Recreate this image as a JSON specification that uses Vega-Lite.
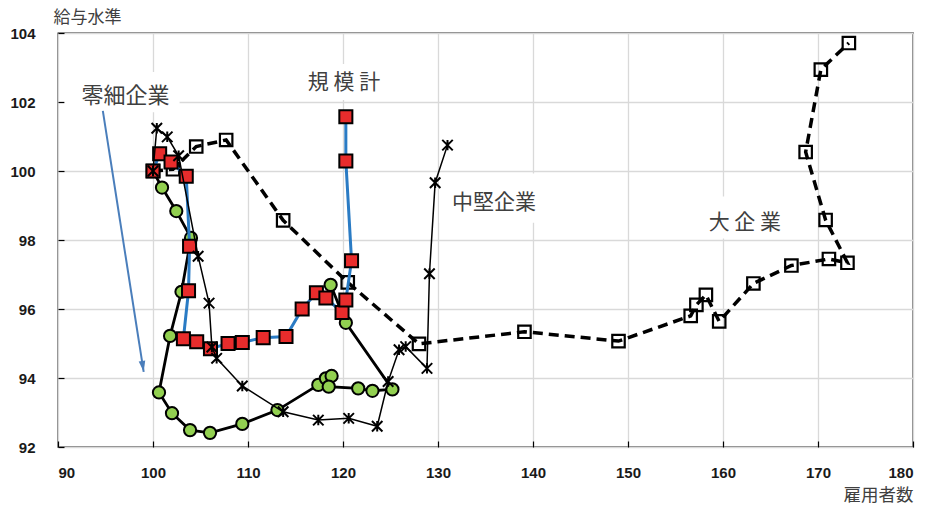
{
  "$schema": "https://vega.github.io/schema/vega-lite/v6.json",
  "width": 855,
  "height": 414,
  "autosize": {"type": "none"},
  "padding": {"left": 58, "top": 33, "right": 17, "bottom": 59},
  "background": "white",
  "config": {
    "view": {"stroke": "#000000", "strokeWidth": 1.3},
    "axis": {
      "domain": false,
      "grid": true,
      "gridColor": "#d9d9d9",
      "gridWidth": 1.3,
      "ticks": true,
      "tickColor": "#000000",
      "tickSize": -6,
      "tickWidth": 1.2,
      "labelFont": "Liberation Sans",
      "labelFontWeight": "bold",
      "labelFontSize": 15,
      "labelColor": "#1a1a1a",
      "titleFont": "Noto Sans CJK JP",
      "titleFontWeight": "normal",
      "titleColor": "#404040"
    }
  },
  "datasets": {
    "large": [
      {"i": 1, "x": 100, "y": 100},
      {"i": 2, "x": 102.1, "y": 100.05},
      {"i": 3, "x": 104.55, "y": 100.71},
      {"i": 4, "x": 107.7, "y": 100.9},
      {"i": 5, "x": 113.7, "y": 98.57},
      {"i": 6, "x": 120.5, "y": 96.77},
      {"i": 7, "x": 128.0, "y": 94.99},
      {"i": 8, "x": 139.1, "y": 95.34},
      {"i": 9, "x": 149.0, "y": 95.07},
      {"i": 10, "x": 156.6, "y": 95.8},
      {"i": 11, "x": 157.2, "y": 96.12},
      {"i": 12, "x": 158.2, "y": 96.41},
      {"i": 13, "x": 159.6, "y": 95.64},
      {"i": 14, "x": 163.2, "y": 96.74},
      {"i": 15, "x": 167.2, "y": 97.26},
      {"i": 16, "x": 171.15, "y": 97.45},
      {"i": 17, "x": 173.1, "y": 97.34},
      {"i": 18, "x": 170.8, "y": 98.58},
      {"i": 19, "x": 168.7, "y": 100.55},
      {"i": 20, "x": 170.3, "y": 102.94},
      {"i": 21, "x": 173.25, "y": 103.71}
    ],
    "mid": [
      {"i": 1, "x": 100, "y": 100},
      {"i": 2, "x": 100.4, "y": 101.24},
      {"i": 3, "x": 101.5, "y": 100.99},
      {"i": 4, "x": 102.7, "y": 100.44},
      {"i": 5, "x": 104.75, "y": 97.53},
      {"i": 6, "x": 105.9, "y": 96.17},
      {"i": 7, "x": 106.2, "y": 94.9},
      {"i": 8, "x": 106.7, "y": 94.57},
      {"i": 9, "x": 109.4, "y": 93.77},
      {"i": 10, "x": 113.7, "y": 93.02},
      {"i": 11, "x": 117.4, "y": 92.78},
      {"i": 12, "x": 120.6, "y": 92.83},
      {"i": 13, "x": 123.6, "y": 92.6},
      {"i": 14, "x": 124.75, "y": 93.9},
      {"i": 15, "x": 125.9, "y": 94.82},
      {"i": 16, "x": 126.6, "y": 94.91},
      {"i": 17, "x": 128.84, "y": 94.28},
      {"i": 18, "x": 129.1, "y": 97.02},
      {"i": 19, "x": 129.7, "y": 99.66},
      {"i": 20, "x": 131.0, "y": 100.75}
    ],
    "small": [
      {"i": 1, "x": 100, "y": 100},
      {"i": 2, "x": 100.95, "y": 99.52},
      {"i": 3, "x": 102.45, "y": 98.84},
      {"i": 4, "x": 104.0, "y": 98.06},
      {"i": 5, "x": 103.0, "y": 96.5},
      {"i": 6, "x": 101.8, "y": 95.22},
      {"i": 7, "x": 100.63, "y": 93.58},
      {"i": 8, "x": 102.0, "y": 92.98},
      {"i": 9, "x": 103.9, "y": 92.49},
      {"i": 10, "x": 106.0, "y": 92.41},
      {"i": 11, "x": 109.4, "y": 92.67},
      {"i": 12, "x": 113.1, "y": 93.07},
      {"i": 13, "x": 117.4, "y": 93.8},
      {"i": 14, "x": 118.2, "y": 93.99},
      {"i": 15, "x": 118.8, "y": 94.06},
      {"i": 16, "x": 118.5, "y": 93.75},
      {"i": 17, "x": 121.6, "y": 93.7},
      {"i": 18, "x": 123.1, "y": 93.63},
      {"i": 19, "x": 125.2, "y": 93.67},
      {"i": 20, "x": 120.3, "y": 95.6},
      {"i": 21, "x": 118.7, "y": 96.7}
    ],
    "total": [
      {"i": 1, "x": 100, "y": 100},
      {"i": 2, "x": 100.7, "y": 100.5},
      {"i": 3, "x": 101.9, "y": 100.26},
      {"i": 4, "x": 103.5, "y": 99.85},
      {"i": 5, "x": 103.85, "y": 97.82},
      {"i": 6, "x": 103.74, "y": 96.53},
      {"i": 7, "x": 103.2, "y": 95.14},
      {"i": 8, "x": 104.6, "y": 95.05},
      {"i": 9, "x": 106.05, "y": 94.85},
      {"i": 10, "x": 107.9, "y": 95.0},
      {"i": 11, "x": 109.4, "y": 95.03},
      {"i": 12, "x": 111.6, "y": 95.17},
      {"i": 13, "x": 114.0, "y": 95.2},
      {"i": 14, "x": 115.7, "y": 96.0},
      {"i": 15, "x": 117.2, "y": 96.47},
      {"i": 16, "x": 118.2, "y": 96.32},
      {"i": 17, "x": 119.9, "y": 95.9},
      {"i": 18, "x": 120.3, "y": 96.26},
      {"i": 19, "x": 120.9, "y": 97.4},
      {"i": 20, "x": 120.3, "y": 100.29},
      {"i": 21, "x": 120.3, "y": 101.57}
    ],
    "labels": [
      {"label": "零細企業", "x": 97.1, "y": 102.17, "x1": 90.7, "x2": 102.8, "y1": 101.7, "y2": 102.87, "fs": 22},
      {"label": "規 模 計", "x": 120.1, "y": 102.55, "x1": 115.4, "x2": 125.3, "y1": 102.06, "y2": 103.1, "fs": 21},
      {"label": "中堅企業", "x": 135.9, "y": 99.06, "x1": 130.1, "x2": 141.4, "y1": 98.5, "y2": 99.93, "fs": 21},
      {"label": "大 企 業", "x": 162.3, "y": 98.48, "x1": 157.4, "x2": 167.8, "y1": 98.04, "y2": 99.26, "fs": 21}
    ],
    "arrow": [
      {"x": 94.72, "y": 101.74, "x2": 99.02, "y2": 94.18}
    ]
  },
  "layer": [
    {
      "data": {"name": "labels"},
      "mark": {"type": "rect", "fill": "white", "stroke": null},
      "encoding": {
        "x": {"field": "x1", "type": "quantitative", "scale": {"domain": [90, 180], "nice": false, "zero": false},
          "axis": {"values": [90, 100, 110, 120, 130, 140, 150, 160, 170, 180], "labelPadding": 24, "title": "雇用者数", "titleFontSize": 17.5, "titleAnchor": "end", "titleAlign": "right", "titleX": 855, "titleY": 48, "titleBaseline": "middle"}},
        "x2": {"field": "x2"},
        "y": {"field": "y1", "type": "quantitative", "scale": {"domain": [92, 104], "nice": false, "zero": false},
          "axis": {"values": [92, 94, 96, 98, 100, 102, 104], "labelPadding": 29, "title": "給与水準", "titleFontSize": 17, "titleAngle": 0, "titleAlign": "left", "titleBaseline": "middle", "titleX": -5, "titleY": -16}},
        "y2": {"field": "y2"}
      }
    },
    {
      "data": {"name": "large"},
      "mark": {"type": "line", "color": "#000000", "strokeWidth": 3.5, "strokeDash": [10, 6]},
      "encoding": {
        "x": {"field": "x", "type": "quantitative"},
        "y": {"field": "y", "type": "quantitative"},
        "order": {"field": "i", "type": "quantitative"}
      }
    },
    {
      "data": {"name": "large"},
      "mark": {"type": "point", "shape": "square", "filled": false, "stroke": "#000000", "strokeWidth": 2.2, "size": 155, "opacity": 1},
      "encoding": {
        "x": {"field": "x", "type": "quantitative"},
        "y": {"field": "y", "type": "quantitative"}
      }
    },
    {
      "data": {"name": "small"},
      "mark": {"type": "line", "color": "#000000", "strokeWidth": 2.8},
      "encoding": {
        "x": {"field": "x", "type": "quantitative"},
        "y": {"field": "y", "type": "quantitative"},
        "order": {"field": "i", "type": "quantitative"}
      }
    },
    {
      "data": {"name": "small"},
      "mark": {"type": "point", "shape": "circle", "filled": true, "fill": "#92d050", "stroke": "#000000", "strokeWidth": 2, "size": 150, "opacity": 1},
      "encoding": {
        "x": {"field": "x", "type": "quantitative"},
        "y": {"field": "y", "type": "quantitative"}
      }
    },
    {
      "data": {"name": "total"},
      "mark": {"type": "line", "color": "#2a7bc4", "strokeWidth": 3},
      "encoding": {
        "x": {"field": "x", "type": "quantitative"},
        "y": {"field": "y", "type": "quantitative"},
        "order": {"field": "i", "type": "quantitative"}
      }
    },
    {
      "data": {"name": "total"},
      "mark": {"type": "point", "shape": "square", "filled": true, "fill": "#e82c2c", "stroke": "#000000", "strokeWidth": 2, "size": 170, "opacity": 1},
      "encoding": {
        "x": {"field": "x", "type": "quantitative"},
        "y": {"field": "y", "type": "quantitative"}
      }
    },
    {
      "data": {"name": "mid"},
      "mark": {"type": "line", "color": "#000000", "strokeWidth": 1.5},
      "encoding": {
        "x": {"field": "x", "type": "quantitative"},
        "y": {"field": "y", "type": "quantitative"},
        "order": {"field": "i", "type": "quantitative"}
      }
    },
    {
      "data": {"name": "mid"},
      "mark": {"type": "point", "shape": "M-1,-1L1,1M-1,1L1,-1M0,-1L0,1", "filled": false, "stroke": "#000000", "strokeWidth": 2, "size": 110, "opacity": 1},
      "encoding": {
        "x": {"field": "x", "type": "quantitative"},
        "y": {"field": "y", "type": "quantitative"}
      }
    },
    {
      "data": {"name": "arrow"},
      "mark": {"type": "rule", "color": "#4a7ebb", "strokeWidth": 2},
      "encoding": {
        "x": {"field": "x", "type": "quantitative"},
        "y": {"field": "y", "type": "quantitative"},
        "x2": {"field": "x2"},
        "y2": {"field": "y2"}
      }
    },
    {
      "data": {"name": "arrow"},
      "mark": {"type": "point", "shape": "M0,0L-0.45,1.5L0.45,1.5Z", "filled": true, "fill": "#4a7ebb", "stroke": null, "size": 215, "angle": 171, "opacity": 1},
      "encoding": {
        "x": {"field": "x2", "type": "quantitative"},
        "y": {"field": "y2", "type": "quantitative"}
      }
    },
    {
      "data": {"name": "labels"},
      "mark": {"type": "text", "font": "Noto Sans CJK JP", "color": "#404040", "align": "center", "baseline": "middle"},
      "encoding": {
        "x": {"field": "x", "type": "quantitative"},
        "y": {"field": "y", "type": "quantitative"},
        "text": {"field": "label"},
        "size": {"field": "fs", "type": "quantitative", "scale": null}
      }
    }
  ]
}
